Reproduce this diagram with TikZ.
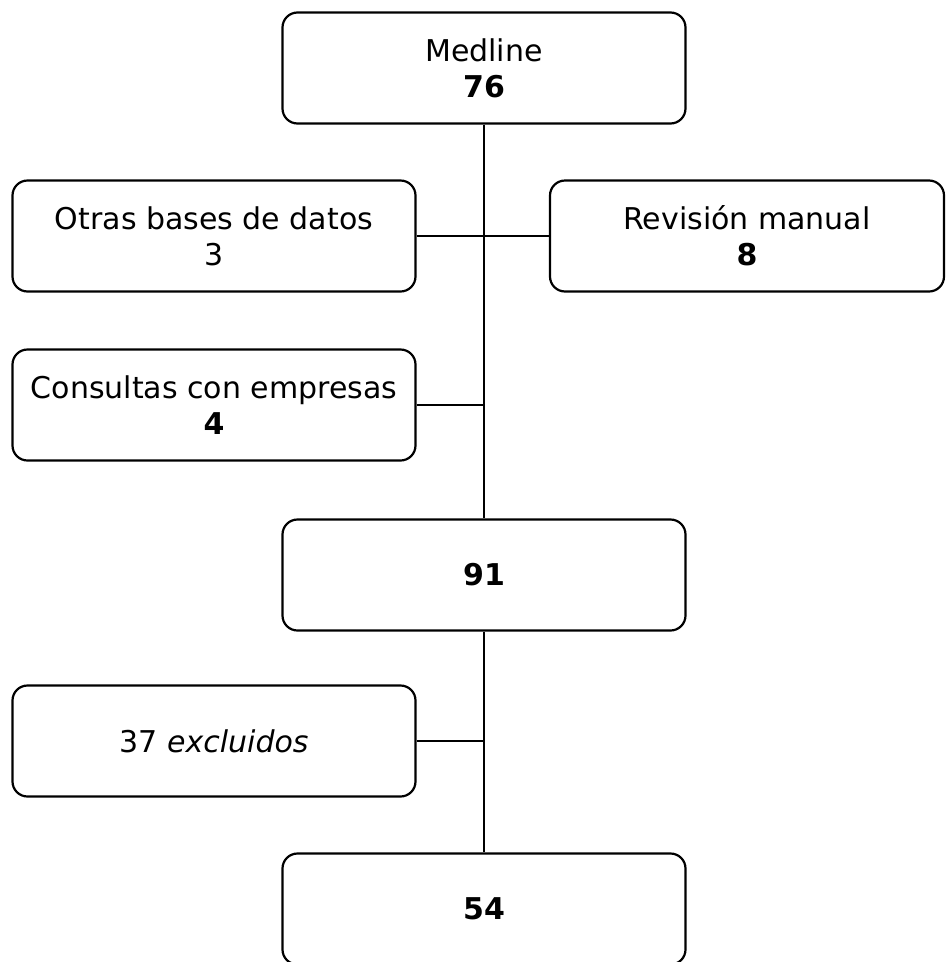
\documentclass[tikz,border=0pt]{standalone}
\usepackage{fontspec}
\setmainfont{DejaVu Sans}
\begin{document}
\begin{tikzpicture}[x=1pt,y=-1pt,
  box/.style={draw,line width=2.2pt,rounded corners=15pt,inner sep=0pt,align=center,
    minimum height=111pt,font=\fontsize{30}{36}\selectfont},
  wide/.style={box,minimum width=403pt},
  conn/.style={line width=2.2pt}]
\useasboundingbox[fill=white] (0,0) rectangle (946,962);
\node[wide] (med) at (484,68) {Medline\\\textbf{76}};
\node[wide] (otras) at (214,236) {Otras bases de datos\\3};
\node[box,minimum width=394pt] (rev) at (747,236) {Revisión manual\\\textbf{8}};
\node[wide] (cons) at (214,405) {Consultas con empresas\\\textbf{4}};
\node[wide] (n91) at (484,575) {\textbf{91}};
\node[wide] (excl) at (214,741) {37 \textit{excluidos}};
\node[wide] (n54) at (484,909) {\textbf{54}};
\draw[conn] (med.south) -- (n91.north);
\draw[conn] (n91.south) -- (n54.north);
\draw[conn] (otras.east) -- (rev.west);
\draw[conn] (cons.east) -- (cons.east -| med.south);
\draw[conn] (excl.east) -- (excl.east -| n91.south);
\end{tikzpicture}
\end{document}
